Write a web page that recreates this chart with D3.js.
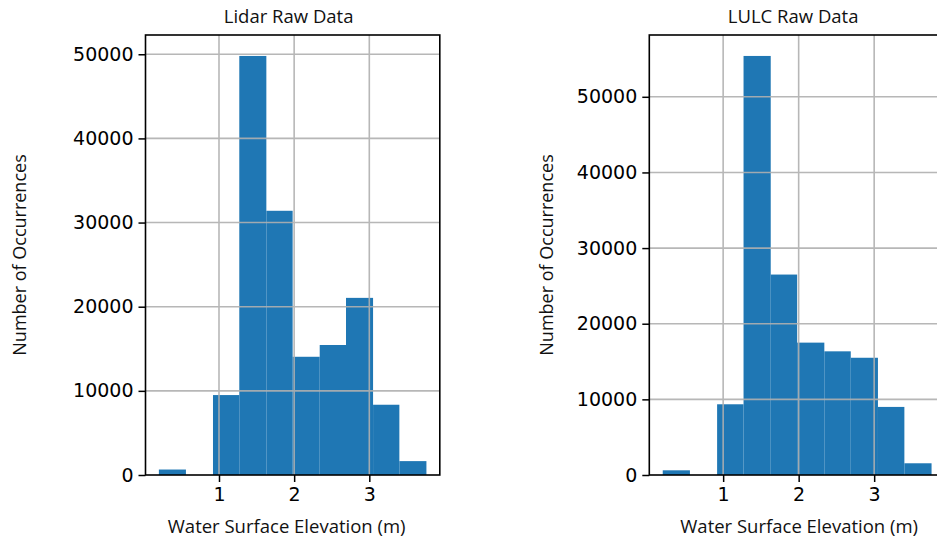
<!DOCTYPE html>
<html>
<head>
<meta charset="utf-8">
<script src="https://cdn.jsdelivr.net/npm/d3@7"></script>
<style>
  body { margin: 0; background: #fff; }
  svg { display: block; }
</style>
</head>
<body>
<script>

// histogram bin edges (m), shared by both panels
var binEdges = [0.20, 0.56, 0.92, 1.27, 1.63, 1.98, 2.34, 2.69, 3.05, 3.40, 3.76];

// counts per bin
var lidarCounts = [650, 0, 9500, 49800, 31400, 14050, 15450, 21050, 8350, 1650];
var lulcCounts = [620, 0, 9350, 55400, 26500, 17500, 16350, 15500, 9000, 1550];

var xTicks = [1, 2, 3];
var yTicks = [0, 10000, 20000, 30000, 40000, 50000];

var titles = ["Lidar Raw Data", "LULC Raw Data"];
var xLabel = "Water Surface Elevation (m)";
var yLabel = "Number of Occurrences";

var width = 937;
var height = 548;

var svg = d3.select("body").append("svg")
	.attr("width", width)
	.attr("height", height);

var labelFont = "'Open Sans', sans-serif";
var tickFont = "'DejaVu Sans', sans-serif";

var panels = [
	{ left: 145.5, right: 439.8, counts: lidarCounts, title: titles[0], yLabelX: 20, labelShift: -6 },
	{ left: 649.3, right: 945, counts: lulcCounts, title: titles[1], yLabelX: 547, labelShift: 2 }
];

var plotTop = 35, plotBottom = 475;

var drawPanel = function(p){
	var bins = p.counts.map(function(c, i){
		return { x0: binEdges[i], x1: binEdges[i + 1], count: c };
	});

	// matplotlib-like 5% margins
	var span = binEdges[binEdges.length - 1] - binEdges[0];
	var x = d3.scaleLinear()
		.domain([binEdges[0] - span * 0.05, binEdges[binEdges.length - 1] + span * 0.05])
		.range([p.left, p.right]);
	var y = d3.scaleLinear()
		.domain([0, d3.max(p.counts) * 1.05])
		.range([plotBottom, plotTop]);

	var g = svg.append("g");

	// bars
	g.selectAll("rect.bar").data(bins)
		.enter()
		.append("rect")
		.attr("class", "bar")
		.attr("x", function(d){ return x(d.x0); })
		.attr("width", function(d){ return x(d.x1) - x(d.x0); })
		.attr("y", function(d){ return y(d.count); })
		.attr("height", function(d){ return y(0) - y(d.count); })
		.attr("fill", "#1f77b4");

	// grid on top of bars
	var grid = g.append("g").attr("stroke", "#b0b0b0").attr("stroke-width", 1.6).attr("opacity", 0.9);
	grid.selectAll("line.vx").data(xTicks)
		.enter()
		.append("line")
		.attr("x1", function(d){ return x(d); })
		.attr("x2", function(d){ return x(d); })
		.attr("y1", plotTop)
		.attr("y2", plotBottom);
	grid.selectAll("line.hy").data(yTicks.filter(function(t){ return t > 0; }))
		.enter()
		.append("line")
		.attr("y1", function(d){ return y(d); })
		.attr("y2", function(d){ return y(d); })
		.attr("x1", p.left)
		.attr("x2", p.right);

	// axes
	var xAxis = g.append("g")
		.attr("transform", "translate(0," + plotBottom + ")")
		.call(d3.axisBottom(x).tickValues(xTicks).tickSize(7).tickPadding(6).tickFormat(d3.format("d")));
	var yAxis = g.append("g")
		.attr("transform", "translate(" + p.left + ",0)")
		.call(d3.axisLeft(y).tickValues(yTicks).tickSize(7).tickPadding(5).tickFormat(d3.format("d")));

	[xAxis, yAxis].forEach(function(a){
		a.select(".domain").remove();
		a.selectAll("line").attr("stroke", "#000").attr("stroke-width", 1.5);
		a.selectAll("text")
			.attr("fill", "#000")
			.style("font-family", tickFont)
			.style("font-size", "19px");
	});

	// frame
	g.append("rect")
		.attr("x", p.left)
		.attr("y", plotTop)
		.attr("width", p.right - p.left)
		.attr("height", plotBottom - plotTop)
		.attr("fill", "none")
		.attr("stroke", "#000")
		.attr("stroke-width", 1.6);

	var cx = (p.left + p.right) / 2;

	g.append("text")
		.attr("x", cx - 4)
		.attr("y", 23)
		.attr("text-anchor", "middle")
		.style("font-family", labelFont)
		.style("font-size", "18.5px")
		.attr("fill", "#111")
		.text(p.title);

	g.append("text")
		.attr("x", cx + p.labelShift)
		.attr("y", 533)
		.attr("text-anchor", "middle")
		.style("font-family", labelFont)
		.style("font-size", "18.5px")
		.attr("fill", "#111")
		.text(xLabel);

	g.append("text")
		.attr("transform", "translate(" + (p.yLabelX + 6) + "," + ((plotTop + plotBottom) / 2) + ") rotate(-90)")
		.attr("text-anchor", "middle")
		.style("font-family", labelFont)
		.style("font-size", "18px")
		.attr("fill", "#111")
		.text(yLabel);
}

panels.forEach(drawPanel);

</script>
</body>
</html>
